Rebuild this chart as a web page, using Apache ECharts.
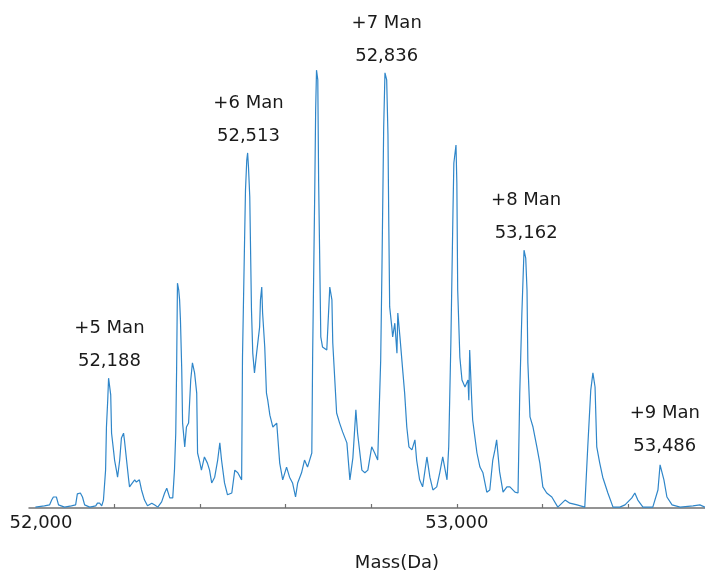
<!DOCTYPE html>
<html>
<head>
<meta charset="utf-8">
<script src="https://cdn.jsdelivr.net/npm/echarts@6/dist/echarts.min.js"></script>
<style>
  html, body { margin: 0; padding: 0; background: #fff; }
  #chart { width: 705px; height: 577px; }
</style>
</head>
<body>
<div id="chart"></div>
<script>
// deconvoluted spectrum, mass in Da and relative intensity (%)
const massDa = [
  52015, 52036, 52048, 52053, 52057, 52064, 52069, 52083, 52099, 52109,
  52113, 52120, 52125, 52130, 52142, 52156, 52160, 52165, 52170, 52174,
  52179, 52181, 52184, 52186, 52188, 52191, 52193, 52198, 52200, 52205,
  52207, 52212, 52216, 52221, 52223, 52228, 52233, 52235, 52240, 52247,
  52251, 52258, 52263, 52270, 52277, 52287, 52294, 52301, 52310, 52317,
  52322, 52329, 52336, 52340, 52343, 52345, 52347, 52350, 52352, 52354,
  52357, 52359, 52364, 52368, 52373, 52378, 52382, 52387, 52392, 52394,
  52399, 52403, 52410, 52417, 52422, 52427, 52434, 52441, 52446, 52450,
  52457, 52464, 52474, 52481, 52488, 52497, 52499, 52504, 52506, 52509,
  52511, 52513, 52516, 52520, 52523, 52527, 52532, 52539, 52541, 52544,
  52546, 52551, 52555, 52558, 52563, 52570, 52579, 52586, 52593, 52602,
  52609, 52616, 52623, 52628, 52637, 52644, 52651, 52661, 52663, 52668,
  52670, 52672, 52675, 52677, 52682, 52686, 52696, 52703, 52708, 52710,
  52719, 52726, 52733, 52743, 52750, 52757, 52764, 52768, 52778, 52785,
  52792, 52801, 52808, 52815, 52822, 52825, 52829, 52832, 52836, 52839,
  52841, 52843, 52848, 52850, 52855, 52860, 52862, 52867, 52874, 52878,
  52883, 52888, 52895, 52902, 52906, 52913, 52920, 52930, 52937, 52944,
  52953, 52960, 52967, 52977, 52981, 52986, 52991, 52993, 52998, 53000,
  53002, 53007, 53012, 53019, 53026, 53028, 53030, 53035, 53037, 53047,
  53054, 53061, 53070, 53077, 53084, 53089, 53093, 53100, 53108, 53117,
  53124, 53136, 53143, 53147, 53152, 53157, 53161, 53164, 53166, 53171,
  53178, 53187, 53194, 53201, 53210, 53222, 53236, 53253, 53264, 53281,
  53299, 53306, 53313, 53318, 53323, 53327, 53334, 53341, 53353, 53365,
  53381, 53393, 53409, 53416, 53423, 53435, 53458, 53470, 53475, 53479,
  53484, 53491, 53503, 53522, 53552, 53568, 53580
];
const intensity = [
  0.2, 0.5, 0.7, 1.8, 2.5, 2.5, 0.7, 0.2, 0.5, 0.7,
  3.2, 3.4, 2.5, 0.7, 0.2, 0.5, 1.1, 1.1, 0.5, 1.8,
  8.6, 18.4, 24.5, 29.5, 29.5, 25.7, 17.0, 12.7, 10.9, 8.2,
  7.0, 10.9, 15.9, 17.0, 15.5, 10.9, 6.4, 4.8, 5.5, 6.4,
  5.9, 6.4, 4.1, 1.8, 0.5, 1.1, 0.7, 0.2, 1.4, 3.4,
  4.5, 2.3, 2.3, 8.6, 17.0, 31.4, 51.1, 49.5, 47.3, 42.7,
  31.4, 19.3, 13.9, 18.4, 19.3, 29.1, 33.0, 30.7, 26.1, 12.5,
  10.5, 8.6, 11.6, 10.2, 8.6, 5.7, 7.0, 10.9, 14.8, 10.9,
  5.7, 3.0, 3.4, 8.6, 8.0, 6.4, 34.3, 61.6, 72.3, 79.1,
  80.7, 77.5, 70.7, 45.0, 35.2, 30.7, 35.2, 41.1, 47.3, 50.2,
  44.3, 36.6, 26.1, 24.5, 21.1, 18.4, 19.3, 10.2, 6.4, 9.3,
  7.0, 5.7, 2.5, 5.7, 8.0, 10.9, 9.3, 12.5, 35.2, 73.0,
  90.5, 99.5, 97.3, 73.9, 38.9, 36.6, 35.9, 50.2, 47.3, 37.5,
  21.6, 19.3, 17.3, 14.8, 6.4, 11.4, 22.3, 17.0, 8.6, 8.0,
  8.6, 13.9, 12.5, 10.9, 33.6, 54.8, 86.6, 98.9, 97.3, 84.8,
  63.9, 45.7, 41.1, 38.9, 42.0, 35.2, 44.3, 38.9, 30.7, 26.1,
  18.4, 13.9, 13.2, 15.5, 10.9, 6.4, 4.8, 11.6, 7.0, 4.1,
  4.8, 8.0, 11.6, 6.4, 13.9, 37.5, 67.7, 78.4, 82.5, 73.9,
  49.5, 34.3, 29.1, 27.5, 29.1, 24.5, 35.9, 23.9, 20.0, 12.5,
  9.3, 8.0, 3.6, 4.1, 10.9, 13.2, 15.5, 8.2, 3.6, 4.8,
  4.8, 3.6, 3.4, 26.1, 44.3, 58.6, 56.8, 49.5, 33.0, 20.7,
  18.4, 13.9, 10.2, 4.8, 3.4, 2.5, 0.2, 1.8, 1.1, 0.7,
  0.2, 13.9, 26.8, 30.7, 27.5, 13.9, 10.2, 7.0, 3.4, 0.2,
  0.2, 0.7, 2.3, 3.4, 1.8, 0.2, 0.2, 4.1, 9.8, 10.2,
  6.4, 2.5, 0.7, 0.2, 0.5, 0.7, 0.2
];

// annotated glycoforms
const peakNames = ['+5 Man', '+6 Man', '+7 Man', '+8 Man', '+9 Man'];
const peakMass = [52188, 52513, 52836, 53162, 53486];

const tickMass = [52200, 52400, 52600, 52800, 53000, 53200, 53400];
const labelMass = [52000, 53000];

const points = massDa.map((m, i) => [m, intensity[i]]);

// top of the trace near a labelled mass
function peakTop(m) {
  let best = 0;
  massDa.forEach((x, i) => {
    if (Math.abs(x - m) <= 10 && intensity[i] > best) best = intensity[i];
  });
  return best;
}

function fmt(n) {
  return String(n).replace(/\B(?=(\d{3})+(?!\d))/g, ',');
}

const markData = peakNames.map((n, i) => ({
  name: n,
  value: peakMass[i],
  coord: [peakMass[i], peakTop(peakMass[i])]
}));

const chart = echarts.init(document.getElementById('chart'));
const font = 'DejaVu Sans';

chart.setOption({
  animation: false,
  grid: { left: 29, right: 0, top: 68, bottom: 69 },
  xAxis: {
    type: 'value',
    min: 52000,
    max: 53580,
    interval: 200,
    splitLine: { show: false },
    axisLine: { lineStyle: { color: '#707070', width: 1.5 } },
    axisTick: {
      inside: true,
      length: 4,
      customValues: tickMass,
      lineStyle: { color: '#707070', width: 1.2 }
    },
    axisLabel: {
      customValues: labelMass,
      margin: 6,
      color: '#1a1a1a',
      fontFamily: font,
      fontSize: 18,
      formatter: v => (v === 52000 ? '{first|' + fmt(v) + '}' : fmt(v)),
      rich: {
        first: { padding: [0, 0, 0, 24], fontFamily: font, fontSize: 18, color: '#1a1a1a' }
      }
    },
    name: 'Mass(Da)',
    nameLocation: 'middle',
    nameGap: 46,
    nameTextStyle: {
      color: '#1a1a1a',
      fontFamily: font,
      fontSize: 18,
      padding: [0, 0, 0, 60]
    }
  },
  yAxis: {
    type: 'value',
    min: 0,
    max: 100,
    show: false
  },
  series: [{
    type: 'line',
    data: points,
    symbol: 'none',
    lineStyle: { color: '#2f86c9', width: 1.2 },
    markPoint: {
      symbol: 'circle',
      symbolSize: 0,
      data: markData,
      label: {
        show: true,
        position: 'top',
        distance: 0,
        color: '#1a1a1a',
        fontFamily: font,
        fontSize: 18,
        lineHeight: 33,
        formatter: p => p.name + '\n' + fmt(p.value)
      }
    }
  }]
});
</script>
</body>
</html>
